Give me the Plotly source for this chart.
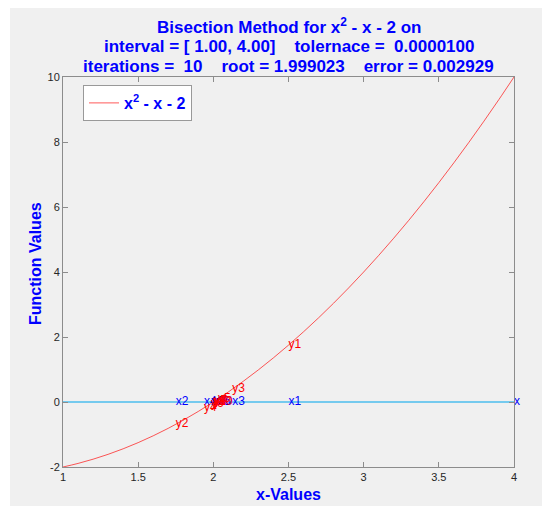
import plotly.graph_objects as go

# Curve samples of f(x) = x^2 - x - 2 on [1, 4]
curve_x = [1.0, 1.1, 1.2, 1.3, 1.4, 1.5, 1.6, 1.7, 1.8, 1.9, 2.0, 2.1, 2.2, 2.3, 2.4, 2.5,
           2.6, 2.7, 2.8, 2.9, 3.0, 3.1, 3.2, 3.3, 3.4, 3.5, 3.6, 3.7, 3.8, 3.9, 4.0]
curve_y = [-2.0, -1.89, -1.76, -1.61, -1.44, -1.25, -1.04, -0.81, -0.56, -0.29, 0.0, 0.31,
           0.64, 0.99, 1.36, 1.75, 2.16, 2.59, 3.04, 3.51, 4.0, 4.51, 5.04, 5.59, 6.16, 6.75,
           7.36, 7.99, 8.64, 9.31, 10.0]

# Zero line
zero_x = [1.0, 4.0]
zero_y = [0.0, 0.0]

# Bisection midpoints and function values
mid_x = [2.5, 1.75, 2.125, 1.9375, 2.03125, 1.984375, 2.0078125, 1.99609375,
         2.001953125, 1.9990234375]
mid_y = [1.75, -0.6875, 0.390625, -0.18359375, 0.0947265625, -0.046630859375,
         0.02349853515625, -0.0117034912109375, 0.005863189697266, -0.002928733825684]
x_labels = ["x1", "x2", "x3", "x4", "x5", "x6", "x7", "x8", "x9", "x10"]
y_labels = ["y1", "y2", "y3", "y4", "y5", "y6", "y7", "y8", "y9", "y10"]

# End marker label
end_x = [4.0]
end_y = [0.0]
end_label = ["x"]

x_ticks = [1, 1.5, 2, 2.5, 3, 3.5, 4]
y_ticks = [-2, 0, 2, 4, 6, 8, 10]

title_lines = [
    "Bisection Method for x<sup>2</sup> - x - 2 on",
    "interval = [ 1.00, 4.00]    tolernace =  0.0000100",
    "iterations =  10    root = 1.999023    error = 0.002929",
]

FONT = "Liberation Sans, Arial, Helvetica, sans-serif"
BLUE = "#0000ff"
RED = "#ff0000"
AX = "#8c8c8c"

fig = go.Figure()

fig.add_trace(go.Scatter(x=zero_x, y=zero_y, mode="lines",
                         line=dict(color="#4DBEEE", width=1.5),
                         showlegend=False, hoverinfo="skip"))
fig.add_trace(go.Scatter(x=curve_x, y=curve_y, mode="lines",
                         line=dict(color="rgba(255,0,0,0.65)", width=1, shape="spline"),
                         name="<b>x<sup>2</sup> - x - 2</b>"))
fig.add_trace(go.Scatter(x=mid_x, y=[0] * len(mid_x), mode="text", text=x_labels,
                         textposition="middle right",
                         textfont=dict(family=FONT, size=12, color=BLUE),
                         showlegend=False, hoverinfo="skip"))
fig.add_trace(go.Scatter(x=mid_x, y=mid_y, mode="text", text=y_labels,
                         textposition="middle right",
                         textfont=dict(family=FONT, size=12, color=RED),
                         showlegend=False, hoverinfo="skip"))
fig.add_trace(go.Scatter(x=end_x, y=end_y, mode="text", text=end_label,
                         textposition="middle right",
                         textfont=dict(family=FONT, size=12, color=BLUE),
                         showlegend=False, hoverinfo="skip", cliponaxis=False))

L, R, T, B = 63, 28, 77, 39
W, H = 542, 506
pw, ph = W - L - R, H - T - B

def px(xpix):
    return (xpix - L) / pw

def py(ypix):
    return (H - B - ypix) / ph

title_y = [26, 46, 66]
annotations = [
    dict(xref="paper", yref="paper", x=0.5, y=py(yy), xanchor="center", yanchor="middle",
         showarrow=False, text="<b>" + t + "</b>",
         font=dict(family=FONT, size=17, color=BLUE))
    for t, yy in zip(title_lines, title_y)
]
annotations += [
    dict(xref="paper", yref="paper", x=0.5, y=py(494), xanchor="center", yanchor="middle",
         showarrow=False, text="<b>x-Values</b>",
         font=dict(family=FONT, size=16, color=BLUE)),
    dict(xref="paper", yref="paper", x=px(35), y=py(264), xanchor="center", yanchor="middle",
         showarrow=False, text="<b>Function Values</b>", textangle=-90,
         font=dict(family=FONT, size=16, color=BLUE)),
]

fig.update_layout(
    width=W, height=H, autosize=False,
    margin=dict(l=L, r=R, t=T, b=B),
    paper_bgcolor="white", plot_bgcolor="white",
    font=dict(family=FONT, color="#262626"),
    xaxis=dict(range=[1, 4], tickvals=x_ticks, ticktext=[str(v) for v in x_ticks],
               showgrid=False, zeroline=False, showline=True, linecolor=AX, linewidth=1,
               mirror="ticks", ticks="inside", ticklen=5, tickcolor=AX,
               tickfont=dict(size=11, color="#262626")),
    yaxis=dict(range=[-2, 10], tickvals=y_ticks, ticktext=[str(v) for v in y_ticks],
               showgrid=False, zeroline=False, showline=True, linecolor=AX, linewidth=1,
               mirror="ticks", ticks="inside", ticklen=5, tickcolor=AX,
               tickfont=dict(size=11, color="#262626")),
    legend=dict(x=px(83), y=py(85), xanchor="left", yanchor="top",
                bgcolor="white", bordercolor="#999999", borderwidth=1,
                font=dict(family=FONT, size=16, color=BLUE),
                itemwidth=30, tracegroupgap=0),
    shapes=[dict(type="rect", xref="paper", yref="paper", layer="below",
                 x0=px(10), x1=px(W + 5), y0=py(H + 5), y1=py(8),
                 fillcolor="#f0f0f0", line=dict(width=0))],
    annotations=annotations,
)

fig.write_html("out.html")
